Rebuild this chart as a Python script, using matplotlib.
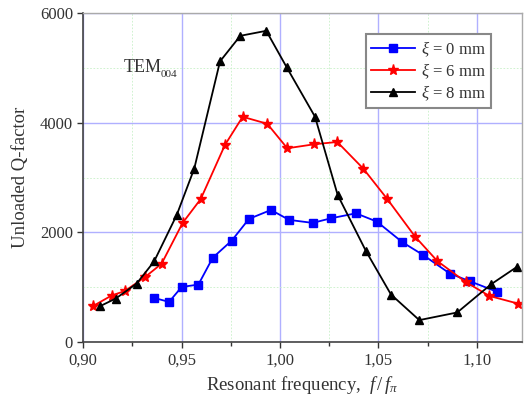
import matplotlib
matplotlib.use("Agg")
import matplotlib.pyplot as plt
from matplotlib.ticker import MultipleLocator, FuncFormatter

# Data
f0 = [0.936, 0.9436, 0.950, 0.9585, 0.9658, 0.9755, 0.9842, 0.9954, 1.0046, 1.0166,
      1.0259, 1.0386, 1.0492, 1.0622, 1.0725, 1.0864, 1.0966, 1.1105]
q0 = [804, 731, 1004, 1047, 1537, 1851, 2245, 2408, 2227, 2172,
      2256, 2347, 2196, 1820, 1592, 1247, 1107, 913]

f6 = [0.9048, 0.9144, 0.9212, 0.9314, 0.9398, 0.9505, 0.9597, 0.972, 0.981, 0.9935,
      1.0037, 1.0174, 1.0291, 1.0423, 1.0545, 1.0686, 1.080, 1.0944, 1.1064, 1.1208]
q6 = [653, 848, 931, 1185, 1428, 2172, 2608, 3593, 4107, 3980,
      3533, 3606, 3648, 3163, 2608, 1924, 1475, 1094, 840, 702]

f8 = [0.9085, 0.9165, 0.9271, 0.936, 0.9475, 0.9564, 0.9695, 0.9798, 0.993, 1.0034,
      1.0178, 1.0293, 1.0437, 1.0564, 1.0708, 1.0901, 1.1073, 1.1203]
q8 = [653, 793, 1065, 1470, 2317, 3163, 5118, 5584, 5675, 5009,
      4107, 2681, 1657, 866, 399, 539, 1053, 1367]

labels = ["0 mm", "6 mm", "8 mm"]

serif = ["Liberation Serif", "DejaVu Serif"]
plt.rcParams['font.family'] = serif
plt.rcParams['mathtext.fontset'] = 'custom'
plt.rcParams['mathtext.rm'] = 'Liberation Serif'
plt.rcParams['mathtext.it'] = 'Liberation Serif:italic'

fig = plt.figure(figsize=(5.26, 4.05), dpi=100)
ax = fig.add_axes([83.3/526, 1-342/405, (522-83.3)/526, (342-13)/405])

ax.plot(f0, q0, color='#0000ff', marker='s', markersize=5.5, lw=1.3,
        label=r'$\xi$ = ' + labels[0])
ax.plot(f6, q6, color='#ff0000', marker='*', markersize=8, lw=1.3,
        label=r'$\xi$ = ' + labels[1])
ax.plot(f8, q8, color='#000000', marker='^', markersize=6, lw=1.3,
        label=r'$\xi$ = ' + labels[2])

ax.set_xlim(0.9, 1.123)
ax.set_ylim(0, 6000)
ax.xaxis.set_major_locator(MultipleLocator(0.05))
ax.xaxis.set_minor_locator(MultipleLocator(0.025))
ax.yaxis.set_major_locator(MultipleLocator(2000))
ax.yaxis.set_minor_locator(MultipleLocator(1000))
ax.xaxis.set_major_formatter(FuncFormatter(lambda v, p: f"{v:.2f}".replace('.', ',')))
ax.yaxis.set_major_formatter(FuncFormatter(lambda v, p: f"{int(v)}"))

ax.grid(which='major', color='#b0b0ff', lw=1.0)
ax.grid(which='minor', color='#c8f0c8', lw=0.6, ls=(0, (2, 2)))
ax.set_axisbelow(True)

ax.tick_params(which='both', direction='out', labelsize=12, colors='#333333', labelcolor='#333333')
ax.tick_params(which='major', length=4, width=1)
ax.tick_params(which='minor', length=3, width=1)
ax.tick_params(axis='y', which='minor', length=0)
for s in ['left', 'bottom']:
    ax.spines[s].set_color('#444444')
    ax.spines[s].set_linewidth(1.2)
for s in ['top', 'right']:
    ax.spines[s].set_color('#aaaaaa')
    ax.spines[s].set_linewidth(1.0)

ax.set_xlabel(r'Resonant frequency,  $f\,/\,f_{\pi}$', fontsize=13.5, color='#333333', labelpad=4)
ax.set_ylabel('Unloaded Q-factor', fontsize=13.5, color='#333333', labelpad=8)

ax.text(0.092, 0.82, 'TEM', transform=ax.transAxes, fontsize=13, color='#333333')
ax.text(0.177, 0.805, '004', transform=ax.transAxes, fontsize=8, color='#333333')

leg = ax.legend(loc='upper right', bbox_to_anchor=(0.93, 0.935), fontsize=12,
                frameon=True, fancybox=False, framealpha=1, edgecolor='#888888',
                handlelength=2.6, handletextpad=0.4, borderpad=0.3, labelspacing=0.15,
                borderaxespad=0)
leg.get_frame().set_linewidth(1.5)
for t in leg.get_texts():
    t.set_color('#333333')

fig.savefig('out.png', dpi=100)
